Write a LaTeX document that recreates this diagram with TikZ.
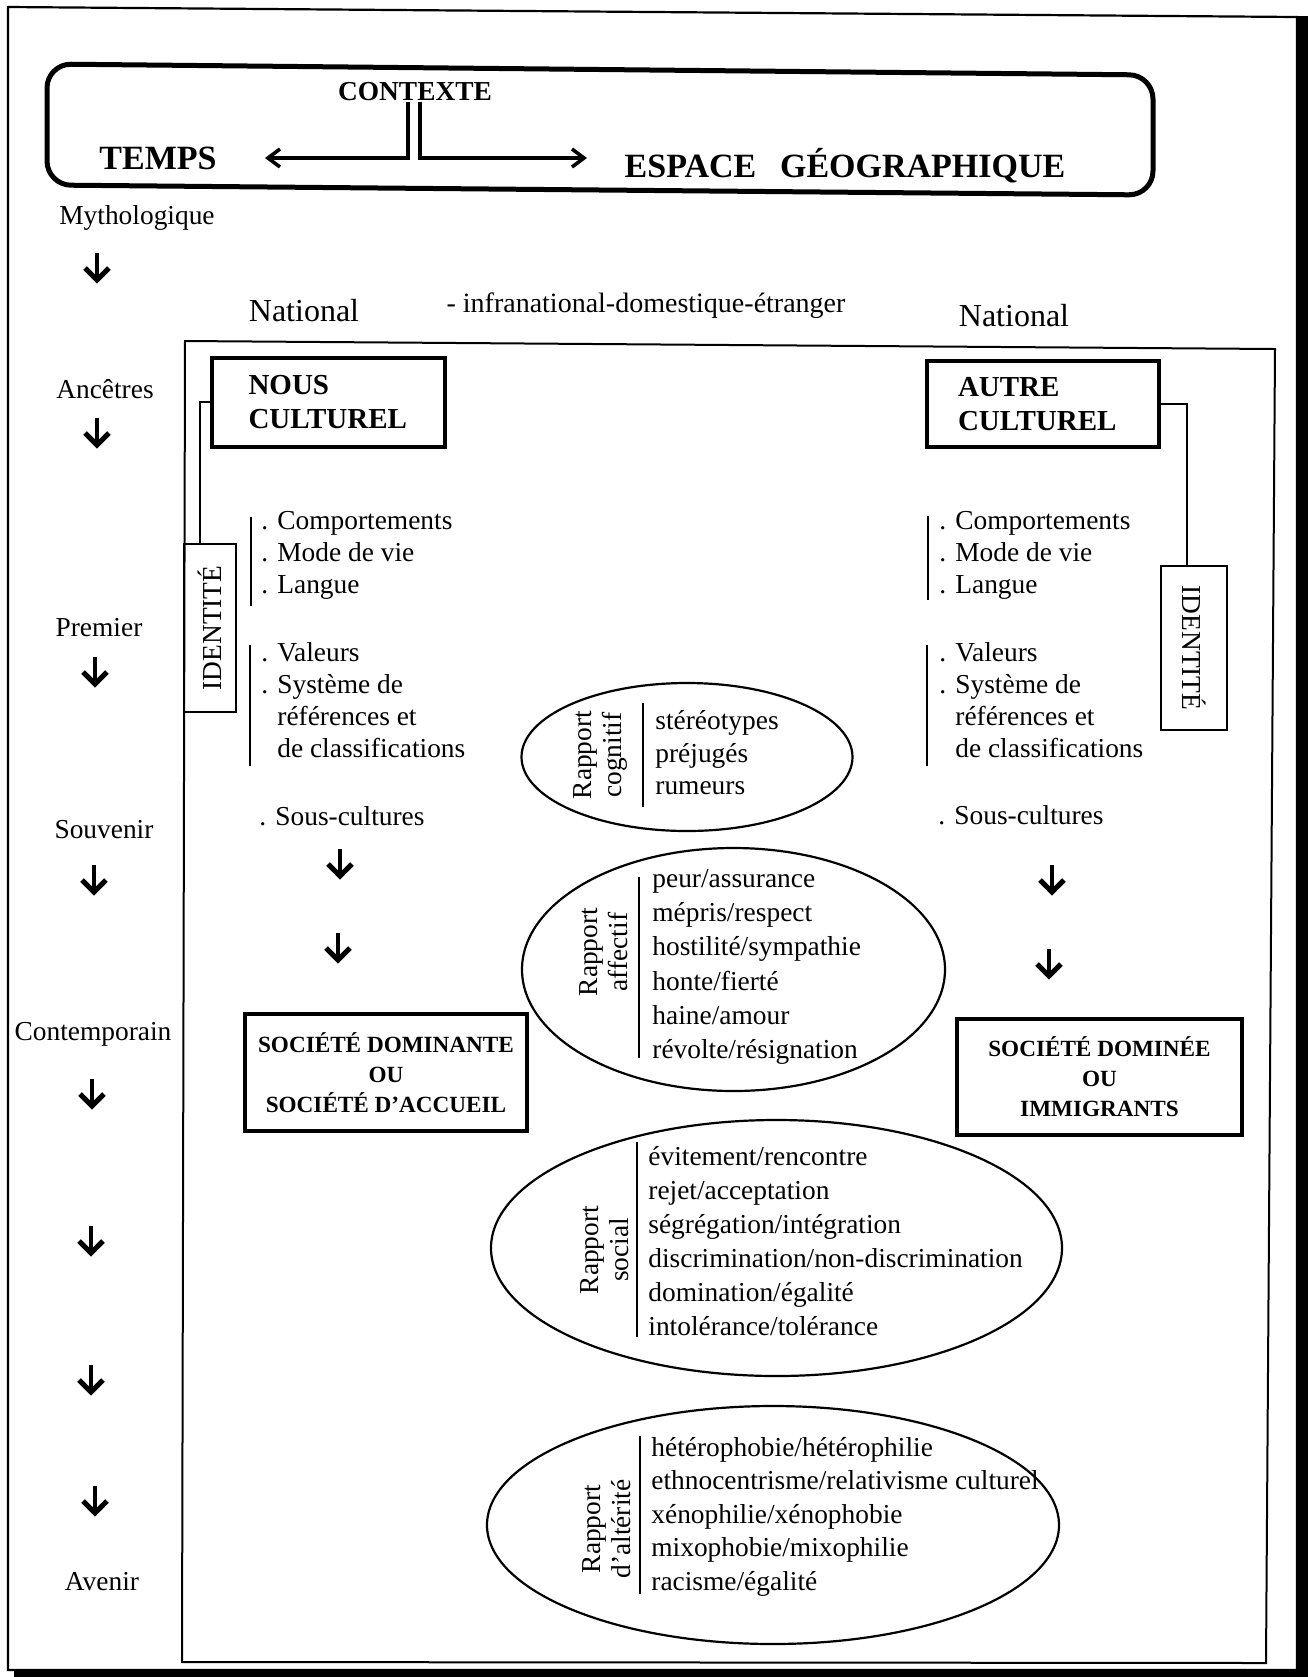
\documentclass[tikz,border=0pt]{standalone}
\usepackage{fontspec}
\setmainfont{Liberation Serif}
\usetikzlibrary{shapes.geometric,arrows.meta}
\begin{document}
\begin{tikzpicture}[x=0.5pt,y=-0.5pt,
  body/.style={font=\fontsize{13.7}{16}\selectfont, inner sep=0pt},
  lst/.style={font=\fontsize{13.7}{16}\selectfont, inner sep=0pt, align=left, anchor=north west},
  items/.style={inner sep=0pt, align=left, anchor=north west},
  big/.style={font=\fontsize{17}{20}\selectfont\bfseries, inner sep=0pt},
  culture/.style={draw, line width=2pt, font=\fontsize{14.5}{17}\selectfont\bfseries, align=left, inner ysep=0pt},
  societe/.style={draw, line width=2pt, font=\fontsize{11.6}{15}\selectfont\bfseries, align=center, inner sep=0pt},
  ident/.style={draw, line width=0.8pt, font=\fontsize{13.7}{16}\selectfont, inner sep=0pt},
  rapport/.style={draw, ellipse, line width=1.1pt, inner sep=0pt},
  rlabel/.style={font=\fontsize{13.7}{15}\selectfont, align=center, inner sep=0pt, rotate=90},
  bar/.style={line width=0.9pt},
  ctx/.style={line width=1.8pt, -{Straight Barb[length=6pt,width=9pt]}},
  dn/.pic={\draw[line width=2.4pt] (0,-15)--(0,10); \draw[line width=2.6pt] (-12,0)--(0,12)--(12,0);}
]
\useasboundingbox (0,0) rectangle (1308,1677);

% outer frame with shadow
\draw[line width=1.1pt] (8,7) -- (1297,17) -- (1297,1670) -- (8,1670) -- cycle;
\fill (1297,16) rectangle (1308,1677);
\fill (14,1670) rectangle (1308,1677);

% top context box
\draw[line width=2.5pt, rounded corners=12pt] (47,64) -- (1153,75) -- (1153,195) -- (47,185) -- cycle;
\node[big] (temps) at (158,158) {TEMPS};
\node[big] (espace) at (845,166) {ESPACE\hspace{0.7em}GÉOGRAPHIQUE};
\node[font=\fontsize{13.7}{16}\selectfont\bfseries, inner sep=0pt] (contexte) at (415,92) {CONTEXTE};
\coordinate (ctxr) at (587,158);
\draw[ctx] ([xshift=-3.5pt]contexte.south) |- ([xshift=24pt]temps.east);
\draw[ctx] ([xshift=2.5pt]contexte.south) |- (ctxr);

% time column
\node[body] (myth) at (137,218) {Mythologique};
\pic at (97,268) {dn};
\node[body] (anc) at (105,389) {Ancêtres};
\pic at (97,433) {dn};
\node[body] (prem) at (99,628) {Premier};
\pic at (95,672) {dn};
\node[body] (souv) at (104,830) {Souvenir};
\pic at (94,880) {dn};
\node[body] (contemp) at (93,1034) {Contemporain};
\pic at (92,1094) {dn};
\pic at (91,1241) {dn};
\pic at (91,1380) {dn};
\pic at (95,1501) {dn};
\node[body] (avenir) at (102,1582) {Avenir};

% national labels
\node[font=\fontsize{16}{19}\selectfont, inner sep=0pt] (natl) at (304,311) {National};
\node[font=\fontsize{14}{17}\selectfont, inner sep=0pt] (infra) at (646,306) {- infranational-domestique-étranger};
\node[font=\fontsize{16}{19}\selectfont, inner sep=0pt] (natr) at (1014,316) {National};

% inner frame
\draw[line width=1pt] (185,341) -- (1275,349) -- (1266,1663) -- (182,1662) -- cycle;

% cultural boxes
\node[culture, minimum width=116.5pt, minimum height=44.5pt, text width=80pt, inner xsep=18pt] (nous) at (328.5,402) {NOUS\\CULTUREL};
\node[culture, minimum width=116pt, minimum height=43pt, text width=85pt, inner xsep=15.5pt] (autre) at (1043,404) {AUTRE\\CULTUREL};

% identity boxes
\node[ident, minimum width=26pt, minimum height=84pt] (idl) at (210,628) {\rotatebox{90}{IDENTITÉ}};
\node[ident, minimum width=33pt, minimum height=82pt] (idr) at (1194,648) {\rotatebox{-90}{IDENTITÉ}};
\draw[line width=0.8pt] (nous.west) -| ([xshift=-5pt]idl.north);
\draw[line width=1.3pt] (autre.east) -| ([xshift=-3.5pt]idr.north);

% left lists
\node[lst] (l1) at (261,511) {. Comportements\\. Mode de vie\\. Langue};
\draw[bar] (251,517) -- (251,606);
\node[lst] (l2) at (261,642) {. Valeurs\\. Système de\\\phantom{. }références et\\\phantom{. }de classifications};
\draw[bar] (250,645) -- (250,766);
\node[body, anchor=west] (lsc) at (259,816) {. Sous-cultures};
\pic at (340,864) {dn};
\pic at (338,948) {dn};

% right lists
\node[lst] (r1) at (939,511) {. Comportements\\. Mode de vie\\. Langue};
\draw[bar] (928,516) -- (928,600);
\node[lst] (r2) at (939,642) {. Valeurs\\. Système de\\\phantom{. }références et\\\phantom{. }de classifications};
\draw[bar] (927,645) -- (927,766);
\node[body, anchor=west] (rsc) at (938,815) {. Sous-cultures};
\pic at (1052,880) {dn};
\pic at (1049,964) {dn};

% society boxes
\node[societe, minimum width=141pt, minimum height=58.5pt] (dom) at (386,1072.5) {SOCIÉTÉ DOMINANTE\\OU\\SOCIÉTÉ D’ACCUEIL};
\node[societe, minimum width=142.5pt, minimum height=58pt] (domi) at (1099.5,1077) {SOCIÉTÉ DOMINÉE\\OU\\IMMIGRANTS\hspace*{0pt}};

% rapport cognitif
\node[rapport, minimum width=165.5pt, minimum height=74pt] (cog) at (687,757) {};
\node[rlabel] (cogl) at (600,755) {Rapport\\cognitif};
\draw[bar] (643,703) -- (643,807);
\node[items, font=\fontsize{13.7}{16.3}\selectfont] (cogi) at (655,710) {stéréotypes\\préjugés\\rumeurs};

% rapport affectif
\node[rapport, minimum width=211.5pt, minimum height=121.5pt] (aff) at (733.5,969.5) {};
\node[rlabel] (affl) at (604,952) {Rapport\\affectif};
\draw[bar] (639,877) -- (639,1058);
\node[items, font=\fontsize{13.7}{17.1}\selectfont] (affi) at (652,869) {peur/assurance\\mépris/respect\\hostilité/sympathie\\honte/fierté\\haine/amour\\révolte/résignation};

% rapport social
\node[rapport, minimum width=285.5pt, minimum height=128pt] (soc) at (776.5,1248) {};
\node[rlabel] (socl) at (605,1250) {Rapport\\social};
\draw[bar] (637,1142) -- (637,1337);
\node[items, font=\fontsize{13.7}{17}\selectfont] (soci) at (648,1146) {évitement/rencontre\\rejet/acceptation\\ségrégation/intégration\\discrimination/non-discrimination\\domination/égalité\\intolérance/tolérance};

% rapport d'alterite
\node[rapport, minimum width=286pt, minimum height=119pt] (alt) at (773,1525) {};
\node[rlabel] (altl) at (607,1529) {Rapport\\d’altérité};
\draw[bar] (640,1436) -- (640,1594);
\node[items, font=\fontsize{13.7}{16.75}\selectfont] (alti) at (651,1437) {hétérophobie/hétérophilie\\ethnocentrisme/relativisme culturel\\xénophilie/xénophobie\\mixophobie/mixophilie\\racisme/égalité};

\end{tikzpicture}
\end{document}
